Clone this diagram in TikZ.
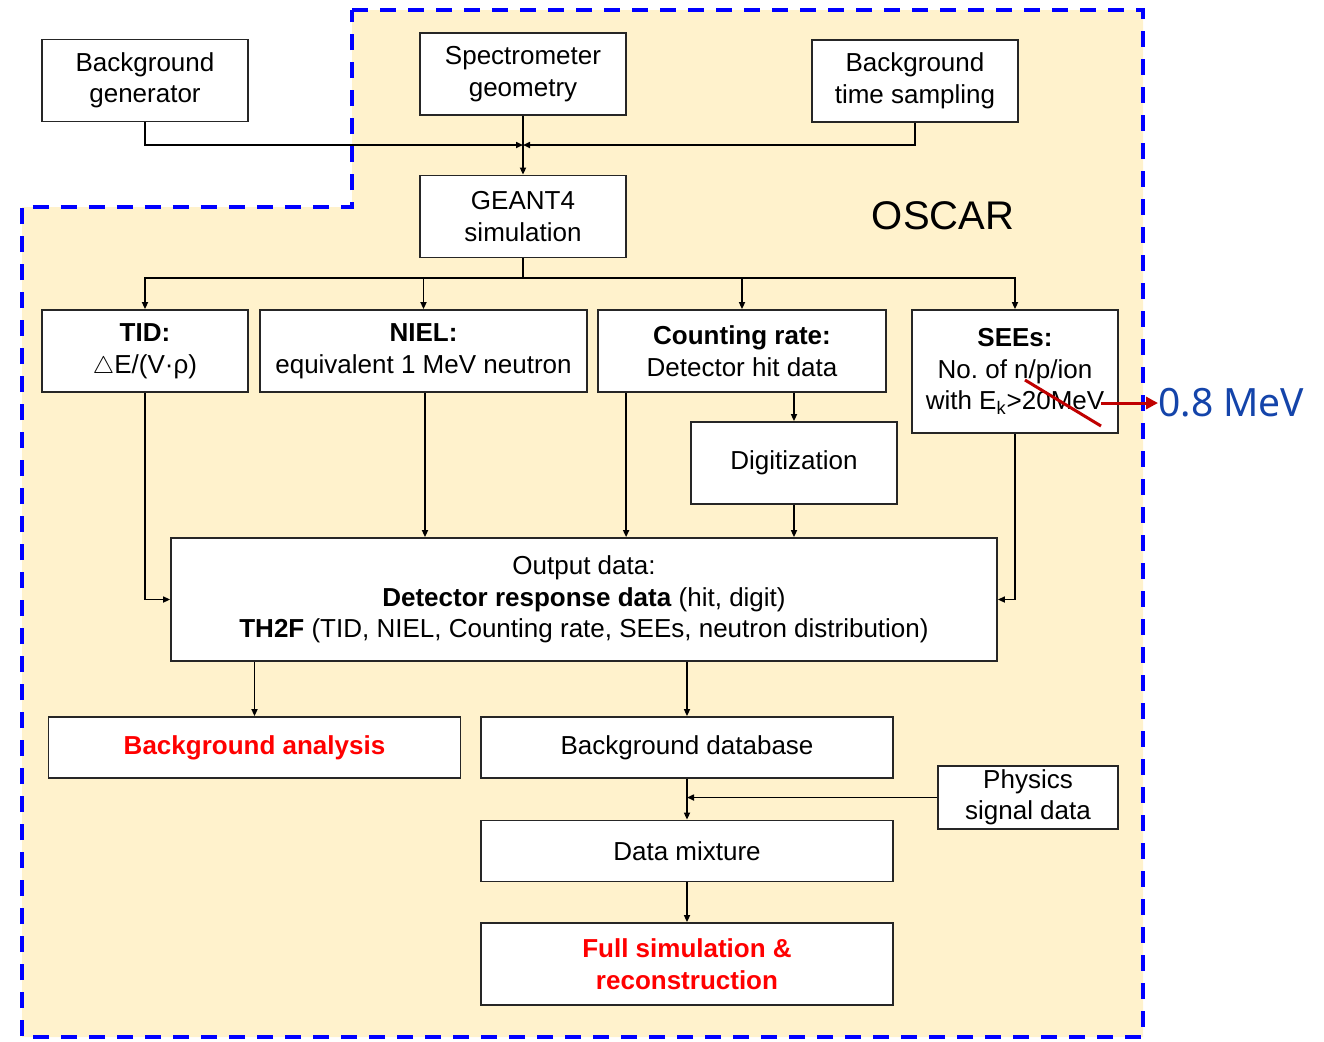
\documentclass[tikz,border=0pt]{standalone}
\usepackage{fontspec}
\setmainfont{Liberation Sans}
\newfontfamily\mevfont{Noto Sans}
\usetikzlibrary{arrows.meta}
\definecolor{oscarbg}{RGB}{255,242,204}
\definecolor{strikered}{RGB}{192,0,0}
\definecolor{mevblue}{RGB}{20,68,170}
\definecolor{hired}{RGB}{255,0,0}

\begin{document}
\begin{tikzpicture}[x=0.5pt, y=-0.5pt,
    box/.style={draw=black!85, line width=0.9pt, fill=white, align=center, inner sep=2pt, font=\fontsize{13}{15.75}\selectfont},
    stdbox/.style={box, minimum width=103pt, minimum height=41pt},
    widebox/.style={box, minimum width=206pt, minimum height=30.5pt},
    arr/.style={-{Triangle[length=3.5pt,width=3pt]}, line width=0.8pt},
    link/.style={line width=0.8pt},
    region/.style={draw=blue, fill=oscarbg, line width=2pt, dash pattern=on 8pt off 6pt}]

        \useasboundingbox (0,0) rectangle (1324,1041);

        % OSCAR region
        \draw[region] (352,10) -- (1143,10) -- (1143,1037) -- (22,1037) -- (22,207) -- (352,207) -- cycle;
        \node[font=\fontsize{20}{24}\selectfont] (oscar) at (943,216) {OSCAR};

        % inputs
        \node[stdbox] (bggen) at (145,80.5) {Background\\generator};
        \node[stdbox] (geom) at (523,74) {Spectrometer\\geometry};
        \node[stdbox] (tsamp) at (915,81) {Background\\time sampling};
        \node[stdbox] (geant) at (523,216.5) {GEANT4\\simulation};
        \coordinate (join) at (523,145);
        \coordinate (split) at (523,278);

        % quantities
        \node[stdbox] (tid) at (145,351) {\textbf{TID:}\\$\triangle$E/(V·ρ)};
        \node[box, minimum width=163.5pt, minimum height=41pt] (niel) at (423.5,351) {\textbf{NIEL:}\\equivalent 1 MeV neutron};
        \node[box, minimum width=144pt, minimum height=41pt] (count) at (742,351) {\textbf{Counting rate:}\\Detector hit data};
        \node[box, minimum width=103pt, minimum height=61.5pt] (sees) at (1015,371.5) {\textbf{SEEs:}\\No.\ of n/p/ion\\with E\textsubscript{k}>20MeV};
        \node[stdbox] (digi) at (794,463) {Digitization};

        % output and downstream
        \node[box, minimum width=413pt, minimum height=61.5pt] (out) at (584,599.5) {Output data:\\\textbf{Detector response data} (hit, digit)\\\textbf{TH2F} (TID, NIEL, Counting rate, SEEs, neutron distribution)};
        \node[widebox, text=hired, font=\fontsize{13}{15.75}\selectfont\bfseries] (ana) at (254.5,747.5) {Background analysis};
        \node[widebox] (db) at (687,747.5) {Background database};
        \node[box, minimum width=90pt, minimum height=30.5pt] (phys) at (1028,797.5) {Physics\\signal data};
        \node[widebox] (mix) at (687,851) {Data mixture};
        \node[box, minimum width=206pt, minimum height=41pt, text=hired, font=\fontsize{13}{15.75}\selectfont\bfseries] (full) at (687,964) {Full simulation \&\\reconstruction};

        \draw[arr] (bggen.south) |- (join);
        \draw[arr] (tsamp.south) |- (join);
        \draw[arr] (geom.south) -- (geant.north);

        \draw[link] (geant.south) -- (split);
        \draw[arr] (split) -| (tid.north);
        \draw[arr] (split) -| (niel.north);
        \draw[arr] (split) -| (count.north);
        \draw[arr] (split) -| (sees.north);

        \draw[arr] (tid.south) |- (out.west);
        \draw[arr] ([xshift=0.75pt]niel.south) -- ([xshift=0.75pt]niel.south |- out.north);
        \draw[arr] ([xshift=14.5pt]count.south west) -- ([xshift=14.5pt]count.south west |- out.north);
        \draw[arr] (count.south -| digi.north) -- (digi.north);
        \draw[arr] (digi.south) -- (digi.south |- out.north);
        \draw[arr] (sees.south) |- (out.east);

        \draw[arr] (ana.north |- out.south) -- (ana.north);
        \draw[arr] (db.north |- out.south) -- (db.north);
        \draw[arr] (db.south) -- (mix.north);
        \draw[arr] (phys.west) -- (phys.west -| db.south);
        \draw[arr] (mix.south) -- (full.north);

        % correction of the energy threshold
        \draw[strikered, line width=1.5pt] (1025,380) -- (1101,426);
        \node[anchor=west, inner sep=0pt, text=mevblue, font=\mevfont\fontsize{19.5}{23}\selectfont] (lowE) at (1158,403) {0.8 MeV};
        \draw[strikered, line width=1.5pt, -{Triangle[length=6pt,width=6pt]}] (1101,403) -- (lowE.west);
\end{tikzpicture}
\end{document}
